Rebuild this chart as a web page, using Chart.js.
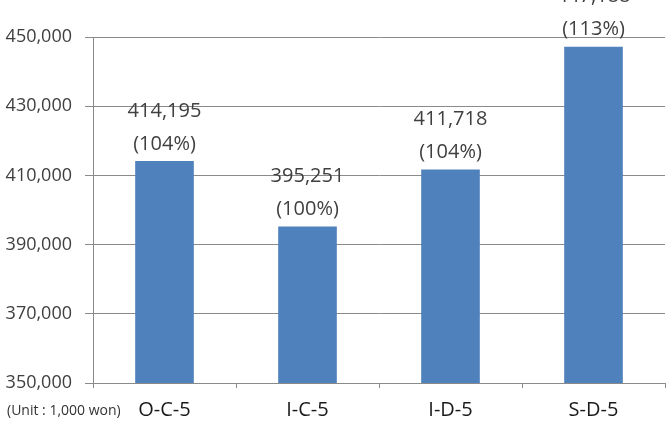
<!DOCTYPE html>
<html>
<head>
<meta charset="utf-8">
<script src="https://cdn.jsdelivr.net/npm/chart.js@4"></script>
<style>
	html, body { margin: 0; padding: 0; background: #fff; }
	#wrap { width: 671px; height: 438px; }
</style>
</head>
<body>
<div id="wrap"><canvas id="chart" width="671" height="438"></canvas></div>
<script>
	// 데이터
	var categories = ["O-C-5", "I-C-5", "I-D-5", "S-D-5"];
	var values = [414195, 395251, 411718, 447188];
	var percents = [104, 100, 104, 113];
	var yTicks = [350000, 370000, 390000, 410000, 430000, 450000];
	var unitText = "(Unit : 1,000 won)";

	var fontFamily = "'Open Sans', 'Liberation Sans', sans-serif";
	var lineColor = "#8a8a8a";

	// 막대 위 값 표시
	var barLabelPlugin = {
		id: "barLabels",
		afterDatasetsDraw: function(chart) {
			var ctx = chart.ctx;
			var meta = chart.getDatasetMeta(0);
			ctx.save();
			ctx.fillStyle = "#404040";
			ctx.font = "20px " + fontFamily;
			ctx.textAlign = "center";
			ctx.textBaseline = "middle";
			for (var i = 0; i < meta.data.length; i++) {
				var bar = meta.data[i];
				ctx.fillText(values[i].toLocaleString("en-US"), bar.x, bar.y - 50);
				ctx.fillText("(" + percents[i] + "%)", bar.x, bar.y - 17);
			} // end for
			// 단위 표시
			ctx.font = "14px " + fontFamily;
			ctx.textAlign = "left";
			ctx.fillStyle = "#333333";
			ctx.fillText(unitText, 7, 411);
			ctx.restore();
		} // afterDatasetsDraw
	};

	var chart = new Chart(document.getElementById("chart"), {
		type: "bar",
		data: {
			labels: categories,
			datasets: [{
				data: values,
				backgroundColor: "#4f81bd",
				barPercentage: 0.41,
				categoryPercentage: 1.0
			}]
		},
		options: {
			responsive: false,
			animation: false,
			layout: { padding: { top: 37, right: 6, left: 0, bottom: 0 } },
			plugins: {
				legend: { display: false },
				tooltip: { enabled: false }
			},
			scales: {
				x: {
					grid: {
						offset: true,
						drawOnChartArea: false,
						drawTicks: true,
						tickLength: 5,
						color: lineColor
					},
					border: { color: lineColor },
					ticks: {
						color: "#1a1a1a",
						padding: 10,
						font: { family: fontFamily, size: 20 }
					},
					afterFit: function(scale) { scale.height = 55; }
				},
				y: {
					min: 350000,
					max: 450000,
					afterBuildTicks: function(scale) {
						scale.ticks = yTicks.map(function(v) { return { value: v }; });
					},
					grid: {
						color: lineColor,
						tickLength: 8
					},
					border: { color: lineColor },
					ticks: {
						color: "#404040",
						padding: 13,
						font: { family: fontFamily, size: 18 },
						callback: function(v) { return Number(v).toLocaleString("en-US"); }
					},
					afterFit: function(scale) { scale.width = 93; }
				}
			}
		},
		plugins: [barLabelPlugin]
	}); // end chart
</script>
</body>
</html>
